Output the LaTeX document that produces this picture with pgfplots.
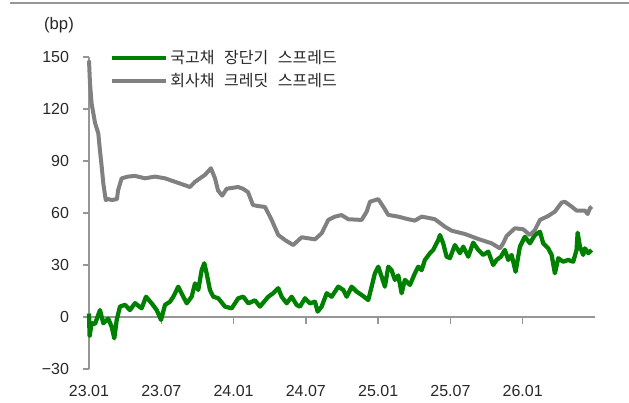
\documentclass[border=0pt]{standalone}
\usepackage{pgfplots}
\pgfplotsset{compat=1.18}
\usepackage{fontspec}
\setmainfont{Liberation Sans}
\newfontfamily\kr{Noto Sans CJK KR}
\definecolor{sgreen}{RGB}{0,128,0}
\definecolor{sgray}{RGB}{128,128,128}
\definecolor{axgray}{RGB}{150,150,150}
\definecolor{txt}{RGB}{40,40,40}

\pgfplotstableread{
m v
0.00 2
0.05 -11
0.22 -3.6
0.50 -4
0.91 4
1.19 -3.6
1.60 -1
1.88 -5.6
2.10 -12.3
2.30 -1.7
2.57 6
2.99 7
3.40 4
3.82 8
4.37 5
4.73 11.7
5.20 7.9
5.62 4
5.98 -1.7
6.31 7
6.72 8.8
7.00 11.7
7.41 17.5
7.83 11.7
8.11 7.9
8.52 11.7
8.80 19.4
9.07 15.6
9.35 27
9.57 31
9.77 25
10.04 15.6
10.32 11.7
10.73 10.8
11.29 6
11.84 5
12.39 10.8
12.81 11.7
13.22 7.9
13.78 9.6
14.19 6
14.88 11.7
15.29 13.7
15.71 16.6
15.99 11.7
16.41 7.9
16.82 11.7
17.24 6.9
17.51 6
17.93 10.8
18.34 7.9
18.76 8.8
18.98 3.1
19.31 6
19.73 13.7
20.14 11.7
20.69 17.5
21.11 15.6
21.39 11.7
21.80 17.5
22.22 14.6
22.63 12.7
23.18 9.8
23.46 17.5
23.73 25.2
24.01 29
24.29 23.3
24.56 17.5
24.84 29
25.12 27
25.39 21.4
25.67 24
25.95 13.7
26.22 21.4
26.64 18.5
27.05 25.2
27.33 29
27.61 27
27.88 32.9
28.30 36.8
28.57 38.7
28.99 44.4
29.13 47.3
29.40 42.5
29.68 34.8
29.96 34
30.37 41.5
30.79 36.8
31.06 40.6
31.48 34.8
31.89 42.9
32.31 38.7
32.72 35.8
33.14 37.7
33.55 30
33.83 32.9
34.19 34.8
34.52 38.7
34.80 32.9
35.08 35.8
35.41 26.1
35.77 40.6
36.18 46.3
36.60 42.5
37.01 47.3
37.43 49.2
37.70 42.5
38.12 39.6
38.40 35.8
38.67 25.2
38.95 33.9
39.36 31.9
39.78 32.9
40.19 31.9
40.47 38.7
40.56 48.6
40.75 40.6
41.02 35.8
41.16 39.6
41.44 36.8
41.72 38.7
}\govt

\pgfplotstableread{
m v
0.00 148
0.08 135
0.22 123
0.50 112
0.77 106
0.91 96
1.05 87
1.19 77
1.39 67.5
1.58 68
1.91 67.5
2.32 68
2.41 73
2.71 80
3.24 81
3.82 81.4
4.65 80
5.48 81
6.31 80
7.14 78
7.97 76
8.38 75
8.80 78
9.63 82
10.12 85.8
10.46 80
10.71 73
11.06 70
11.43 74
12.37 75
12.78 74
13.20 72
13.61 64.6
14.02 64
14.61 63.5
15.16 56
15.71 47.3
16.27 44.4
16.95 41.5
17.65 46
18.76 44.8
19.31 48.3
19.86 56
20.41 57.9
20.97 58.8
21.52 56.4
22.63 56
23.05 60.8
23.32 66.5
24.01 68
24.42 63.7
24.84 58.9
25.67 57.9
26.50 56.4
27.05 55.6
27.61 57.9
28.30 57
28.71 56.4
29.54 52.1
30.10 49.8
31.20 47.9
32.31 45
33.42 42.5
34.11 39.6
34.38 42.5
34.66 46.7
35.35 51.2
36.04 50.6
36.60 47.3
37.01 50.2
37.43 56
38.12 58.3
38.67 60.8
39.23 66
39.50 66.5
40.06 63.7
40.47 61.4
41.16 61.4
41.39 59.4
41.58 62.7
41.72 63.7
}\corp

\begin{document}
\begin{tikzpicture}[x=1pt,y=1pt]
\path[use as bounding box] (0,0) rectangle (471.75,302.25);
\draw[axgray, line width=1.5pt] (7.5,300) -- (471.75,300);
\node[txt, font=\fontsize{12.5}{14}\selectfont] at (44.25,283.5) {(bp)};
% zero line (y = 0) with its downward ticks every six months
\draw[axgray, line width=1.1pt] (66.75,64.5) -- (446.25,64.5);
\foreach \xx in {120.96,175.18,229.39,283.61,337.82,392.04}
  {\draw[axgray, line width=1.1pt] (\xx,64.5) -- (\xx,59.5);}
\begin{axis}[
  at={(66.75pt,25.5pt)}, anchor=south west,
  scale only axis, width=379.5pt, height=234pt,
  xmin=0, xmax=42, ymin=-30, ymax=150,
  axis y line=left, axis x line=bottom,
  axis line style={-, axgray, line width=1.1pt},
  x axis line style={draw=none},
  xtick={0,6,12,18,24,30,36},
  xticklabels={23.01,23.07,24.01,24.07,25.01,25.07,26.01},
  ytick={-30,0,30,60,90,120,150},
  yticklabels={−30,0,30,60,90,120,150},
  xtick style={draw=none},
  ytick style={axgray, line width=1.1pt},
  tick align=outside, major tick length=4.5pt,
  ticklabel style={txt, font=\fontsize{12}{14}\selectfont},
  yticklabel style={xshift=-7pt},
  xticklabel style={yshift=-4pt},
  clip=false,
  legend cell align=left,
  legend style={draw=none, fill=none, at={(axis description cs:0.032,1.04)}, anchor=north west,
    font=\kr\fontsize{12}{13}\selectfont, row sep=2pt, text=txt},
  legend image code/.code={\draw[#1] (0pt,0pt) -- (40.5pt,0pt);},
]
\addplot[sgreen, line width=3.2pt, line join=round] table[x=m,y=v] {\govt};
\addlegendentry{국고채\hspace{0.6em}장단기\hspace{0.6em}스프레드}
\addplot[sgray, line width=3pt, line join=round] table[x=m,y=v] {\corp};
\addlegendentry{회사채\hspace{0.6em}크레딧\hspace{0.6em}스프레드}
\end{axis}
\end{tikzpicture}
\end{document}
